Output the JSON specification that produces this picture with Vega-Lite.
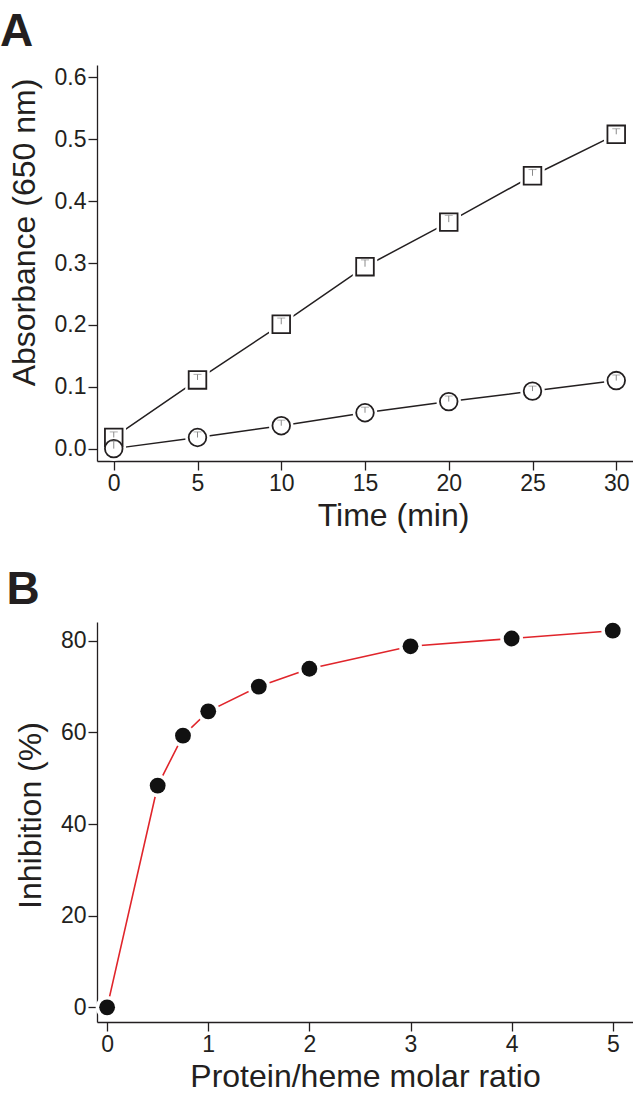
{
  "$schema": "https://vega.github.io/schema/vega-lite/v6.json",
  "padding": {"left": 0, "top": 9, "right": 0, "bottom": 0},
  "background": "white",
  "config": {
    "font": "Liberation Sans",
    "view": {"stroke": null},
    "axis": {
      "grid": false,
      "domainColor": "#231f20",
      "domainWidth": 1.3,
      "tickColor": "#231f20",
      "tickWidth": 1.3,
      "tickSize": 9,
      "labelFont": "Liberation Sans",
      "labelFontSize": 23,
      "labelColor": "#231f20",
      "labelPadding": 2,
      "titleFont": "Liberation Sans",
      "titleFontSize": 32,
      "titleFontWeight": "normal",
      "titleColor": "#231f20"
    },
    "title": {"font": "Liberation Sans", "fontSize": 46, "fontWeight": "bold", "color": "#231f20", "anchor": "start", "frame": "bounds"}
  },
  "spacing": 36,
  "vconcat": [
    {
      "title": {"text": "A", "offset": 9, "dx": -8},
      "width": 536,
      "height": 396,
      "data": {"values": [
        {"t": 0, "a": 0.018, "hi": 0.027, "s": "square"},
        {"t": 5, "a": 0.111, "hi": 0.120, "s": "square"},
        {"t": 10, "a": 0.201, "hi": 0.211, "s": "square"},
        {"t": 15, "a": 0.294, "hi": 0.305, "s": "square"},
        {"t": 20, "a": 0.366, "hi": 0.377, "s": "square"},
        {"t": 25, "a": 0.441, "hi": 0.451, "s": "square"},
        {"t": 30, "a": 0.508, "hi": 0.517, "s": "square"},
        {"t": 0, "a": 0.000, "hi": 0.012, "s": "circle"},
        {"t": 5, "a": 0.018, "hi": 0.027, "s": "circle"},
        {"t": 10, "a": 0.037, "hi": 0.046, "s": "circle"},
        {"t": 15, "a": 0.058, "hi": 0.067, "s": "circle"},
        {"t": 20, "a": 0.076, "hi": 0.085, "s": "circle"},
        {"t": 25, "a": 0.093, "hi": 0.101, "s": "circle"},
        {"t": 30, "a": 0.110, "hi": 0.119, "s": "circle"}
      ]},
      "encoding": {
        "x": {"field": "t", "type": "quantitative",
              "scale": {"domain": [-1, 31], "nice": false, "zero": false},
              "axis": {"values": [0, 5, 10, 15, 20, 25, 30], "title": "Time (min)", "titlePadding": 5, "titleX": 296, "titleAlign": "center"}},
        "y": {"field": "a", "type": "quantitative",
              "scale": {"domain": [-0.02, 0.62], "nice": false, "zero": false},
              "axis": {"values": [0, 0.1, 0.2, 0.3, 0.4, 0.5, 0.6], "format": ".1f", "title": "Absorbance (650 nm)", "titlePadding": 13, "titleY": 167, "titleAlign": "center"}}
      },
      "layer": [
        {"mark": {"type": "line", "color": "#231f20", "strokeWidth": 1.5}, "encoding": {"detail": {"field": "s"}}},
        {"mark": {"type": "point", "filled": true, "color": "white", "opacity": 1, "size": 600},
         "encoding": {"shape": {"field": "s", "type": "nominal", "scale": {"domain": ["square", "circle"], "range": ["square", "circle"]}, "legend": null}}},
        {"mark": {"type": "point", "filled": false, "fill": "white", "fillOpacity": 1, "stroke": "#231f20", "strokeWidth": 1.8, "opacity": 1, "size": 310},
         "encoding": {"shape": {"field": "s", "type": "nominal", "scale": {"domain": ["square", "circle"], "range": ["square", "circle"]}, "legend": null}}},
        {"mark": {"type": "rule", "color": "#8a8a8a", "strokeWidth": 1}, "encoding": {"y2": {"field": "hi"}}},
        {"mark": {"type": "tick", "orient": "horizontal", "color": "#8a8a8a", "thickness": 1, "size": 8}, "encoding": {"y": {"field": "hi", "type": "quantitative"}}}
      ]
    },
    {
      "title": {"text": "B", "offset": 5, "dx": -8},
      "width": 536,
      "height": 400,
      "data": {"values": [
        {"r": 0, "inh": 0},
        {"r": 0.5, "inh": 48.4},
        {"r": 0.75, "inh": 59.3},
        {"r": 1, "inh": 64.6},
        {"r": 1.5, "inh": 70.0},
        {"r": 2, "inh": 73.9},
        {"r": 3, "inh": 78.8},
        {"r": 4, "inh": 80.5},
        {"r": 5, "inh": 82.2}
      ]},
      "encoding": {
        "x": {"field": "r", "type": "quantitative",
              "scale": {"domain": [-0.1, 5.2], "nice": false, "zero": false},
              "axis": {"values": [0, 1, 2, 3, 4, 5], "title": "Protein/heme molar ratio", "titlePadding": 5}},
        "y": {"field": "inh", "type": "quantitative",
              "scale": {"domain": [-3.2, 84.1], "nice": false, "zero": false},
              "axis": {"values": [0, 20, 40, 60, 80], "title": "Inhibition (%)", "titlePadding": 13, "titleY": 193, "titleAlign": "center"}}
      },
      "layer": [
        {"mark": {"type": "line", "color": "#e0252b", "strokeWidth": 1.6}},
        {"mark": {"type": "point", "filled": true, "color": "white", "opacity": 1, "size": 520, "shape": "circle"}},
        {"mark": {"type": "point", "filled": true, "color": "#111111", "opacity": 1, "size": 250, "shape": "circle"}}
      ]
    }
  ]
}
